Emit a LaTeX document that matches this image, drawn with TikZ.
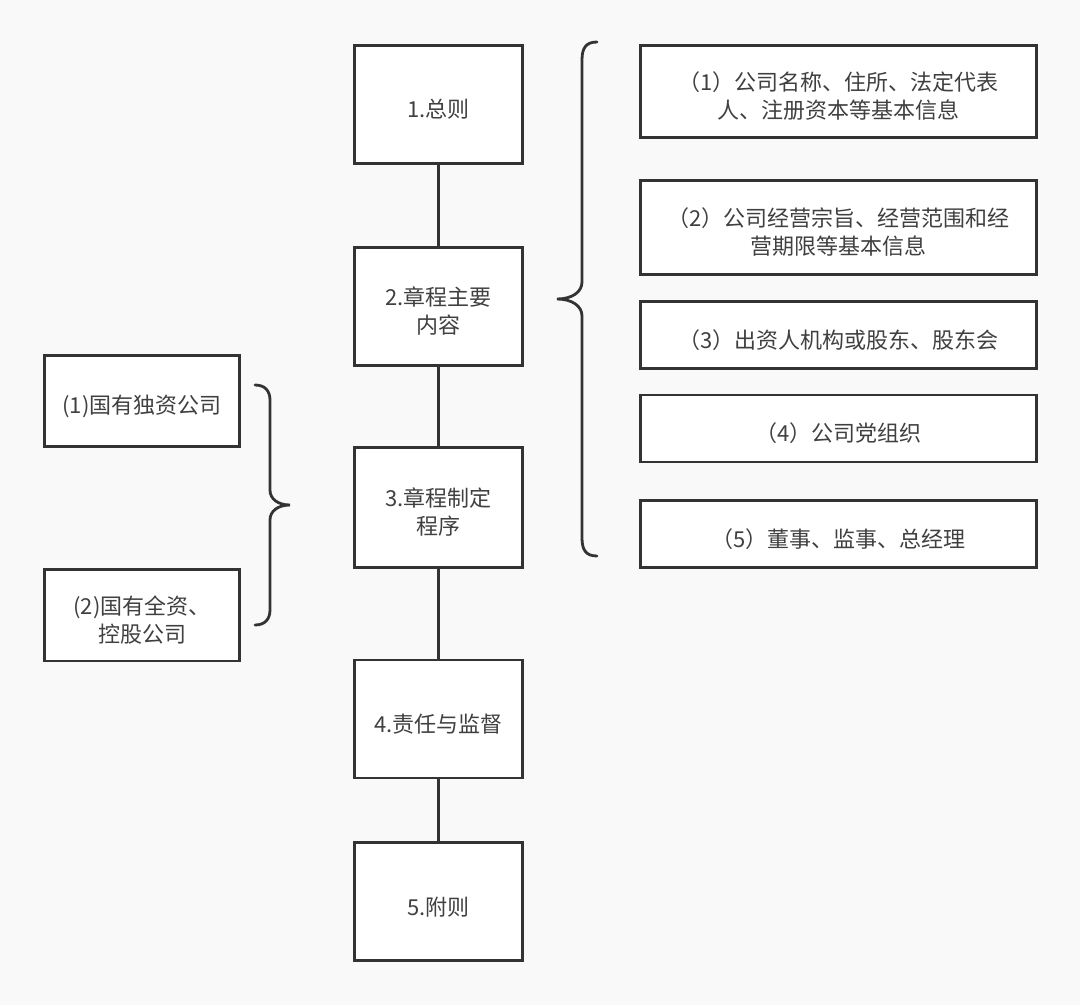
\documentclass[tikz,border=0pt]{standalone}
\usepackage{fontspec}
\setmainfont{Noto Sans CJK SC}
\usepackage{xcolor}
\usetikzlibrary{positioning}
\definecolor{bgcol}{HTML}{F9F9F9}
\definecolor{linecol}{HTML}{333333}
\definecolor{txtcol}{HTML}{404040}

\begin{document}
\begin{tikzpicture}[x=1pt,y=-1pt]
	\fontsize{22}{28}\selectfont
	\newcommand\cenw{168pt}
	\newcommand\cenh{118pt}
	\newcommand\sidew{396pt}
	\newcommand\leftw{195pt}
	\newcommand\bordw{2.8pt}
	% struts: push the text a little below the box centre
	\newcommand\tup{\rule{0pt}{30pt}}
	\newcommand\tdn{\rule[-3.2pt]{0pt}{3.2pt}}
	\tikzset{
		every node/.style={text=txtcol, align=center, inner sep=0pt},
		mybox/.style={draw=linecol, fill=white, line width=\bordw},
		cenbox/.style={mybox, minimum width=\cenw, minimum height=\cenh},
		sidebox/.style={mybox, minimum width=\sidew},
		leftbox/.style={mybox, minimum width=\leftw, minimum height=91.5pt},
		myline/.style={draw=linecol, line width=\bordw},
		mybrace/.style={draw=linecol, line width=\bordw, line cap=round},
	}
	% background
	\fill[bgcol] (0,0) rectangle (1080,1005);
	% main column
	\node[cenbox] (b1) at (438.5,104.5) {\tup 1.总则\tdn};
	\node[cenbox, below=81pt of b1] (b2) {\tup 2.章程主要\\内容\tdn};
	\node[cenbox, below=79pt of b2, minimum height=120pt] (b3) {\tup 3.章程制定\\程序\tdn};
	\node[cenbox, below=90pt of b3] (b4) {\tup 4.责任与监督\tdn};
	\node[cenbox, below=62pt of b4] (b5) {\tup 5.附则\tdn};
	% contents column
	\node[sidebox, minimum height=92pt, right=115pt of b1.north east, anchor=north west] (r1)
		{\tup（1）公司名称、住所、法定代表\\人、注册资本等基本信息\tdn};
	\node[sidebox, minimum height=94pt, below=40pt of r1] (r2)
		{\tup（2）公司经营宗旨、经营范围和经\\营期限等基本信息\tdn};
	\node[sidebox, minimum height=67pt, below=24pt of r2] (r3) {\tup（3）出资人机构或股东、股东会\tdn};
	\node[sidebox, minimum height=67pt, below=24pt of r3] (r4) {\tup（4）公司党组织\tdn};
	\node[sidebox, minimum height=67pt, below=36pt of r4] (r5) {\tup（5）董事、监事、总经理\tdn};
	% company types
	\node[leftbox] (l1) at (142,401) {\tup(1)国有独资公司\tdn};
	\node[leftbox, below=120pt of l1] (l2) {\tup(2)国有全资、\\控股公司\tdn};

	% links
	\draw[myline] (b1) -- (b2);
	\draw[myline] (b2) -- (b3);
	\draw[myline] (b3) -- (b4);
	\draw[myline] (b4) -- (b5);
	% braces
	\draw[mybrace] (597,42) .. controls (586,42) and (582,48) .. (582,60) -- (582,282)
		.. controls (582,292) and (572,299) .. (557,299)
		.. controls (572,299) and (582,306) .. (582,316) -- (582,538)
		.. controls (582,550) and (586,556) .. (597,556);
	\draw[mybrace] (255,385) .. controls (265,385) and (270,391) .. (270,400) -- (270,490)
		.. controls (270,499) and (278,505) .. (290,505)
		.. controls (278,505) and (270,511) .. (270,520) -- (270,610)
		.. controls (270,619) and (265,625) .. (255,625);
\end{tikzpicture}
\end{document}
